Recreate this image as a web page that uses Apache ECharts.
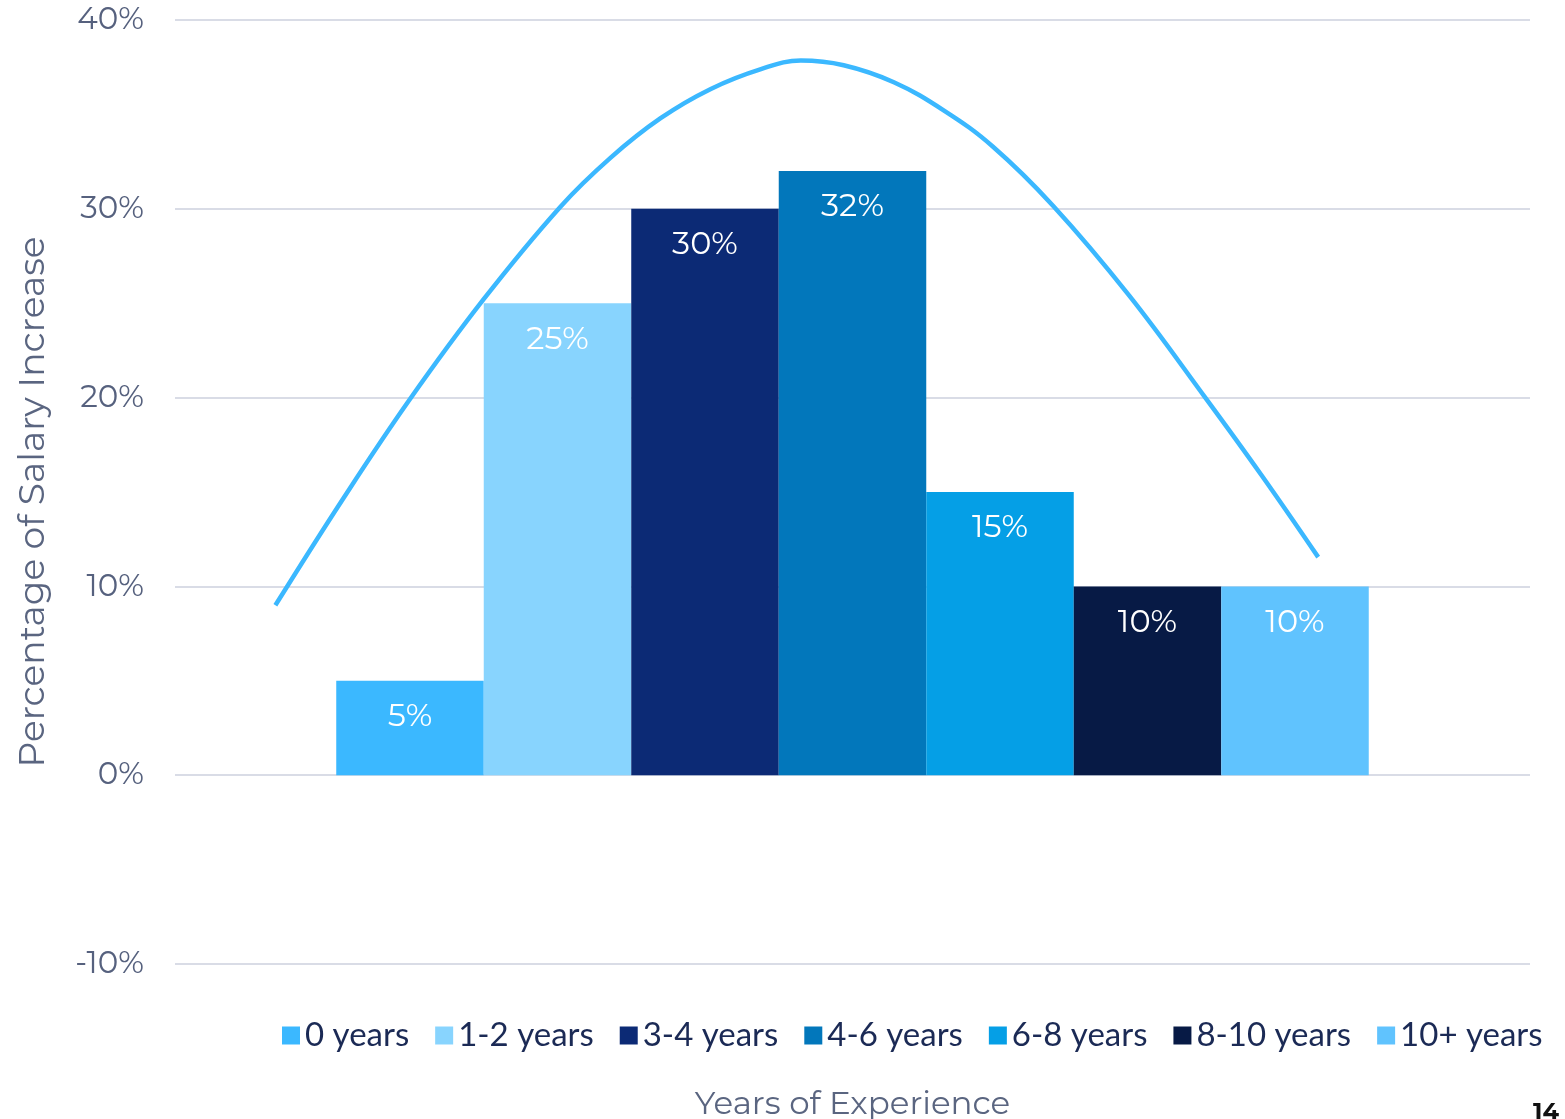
<!DOCTYPE html>
<html>
<head>
<meta charset="utf-8">
<script src="https://cdn.jsdelivr.net/npm/echarts@6/dist/echarts.min.js"></script>
<style>
html,body{margin:0;padding:0;background:#fff;}
#chart{width:1565px;height:1119px;}
</style>
</head>
<body>
<div id="chart"></div>
<script>
// Data
const categories = ['Years of Experience'];
const seriesNames = ['0 years', '1-2 years', '3-4 years', '4-6 years', '6-8 years', '8-10 years', '10+ years'];
const seriesValues = [5, 25, 30, 32, 15, 10, 10];
const seriesColors = ['#3BB8FF', '#88D4FE', '#0C2A75', '#0277BB', '#059FE6', '#071A45', '#60C3FE'];
const yTicks = [-10, 0, 10, 20, 30, 40];
// trend curve: [position along the bar sequence (bar centres at 1..7), value %]
const curveX = [0.09, 0.55, 1.0, 1.5, 2.02, 2.36, 2.70, 3.04, 3.38, 3.65, 3.94, 4.28, 4.62, 4.95, 5.36, 5.875, 6.39, 6.77, 7.155];
const curveY = [9.0, 14.66, 19.9, 25.2, 30.1, 32.7, 34.8, 36.35, 37.4, 37.85, 37.6, 36.7, 35.2, 33.3, 30.15, 25.4, 20.0, 15.9, 11.55];

const FONT = 'Montserrat, "Open Sans", "Noto Sans", sans-serif';
const chart = echarts.init(document.getElementById('chart'));

const barSeries = seriesNames.map((name, i) => ({
  name: name,
  type: 'bar',
  xAxisIndex: 0,
  yAxisIndex: 0,
  data: [seriesValues[i]],
  barGap: '0%',
  barCategoryGap: '23.8%',
  itemStyle: { color: seriesColors[i] },
  label: {
    show: true,
    position: 'insideTop',
    distance: 20,
    formatter: '{c}%',
    color: '#ffffff',
    fontFamily: FONT,
    fontSize: 32
  },
  emphasis: { disabled: true },
  z: 2
}));

const curveData = curveX.map((x, i) => [x, curveY[i]]);

chart.setOption({
  animation: false,
  grid: { left: 175, right: 35, top: 20, bottom: 155, outerBoundsMode: 'none' },
  legend: {
    data: seriesNames,
    top: 1014,
    left: 277,
    right: 0,
    itemWidth: 18,
    itemHeight: 18,
    itemGap: 26,
    icon: 'rect',
    textStyle: { fontFamily: 'Lato, "Noto Sans", sans-serif', fontSize: 33, color: '#1B2A55' }
  },
  xAxis: [
    {
      type: 'category',
      data: categories,
      axisLine: { show: false, onZero: false },
      axisTick: { show: false },
      axisLabel: { show: false },
      name: 'Years of Experience',
      nameLocation: 'middle',
      nameGap: 124,
      nameTextStyle: { fontFamily: FONT, fontSize: 32.5, color: '#5A6580' }
    },
    {
      type: 'value',
      min: -0.59,
      max: 8.59,
      show: false
    }
  ],
  yAxis: {
    type: 'value',
    min: yTicks[0],
    max: yTicks[yTicks.length - 1],
    interval: 10,
    axisLine: { show: false },
    axisTick: { show: false },
    axisLabel: {
      formatter: '{value}%',
      fontFamily: FONT,
      fontSize: 31,
      color: '#56617E',
      margin: 31
    },
    splitLine: { lineStyle: { color: '#D9DCE6', width: 2 } },
    name: 'Percentage of Salary Increase',
    nameLocation: 'middle',
    nameGap: 124,
    nameRotate: 90,
    nameTextStyle: { fontFamily: FONT, fontSize: 36, color: '#5A6580', padding: [0, 20, 0, 0] }
  },
  series: barSeries.concat([{
    name: 'trend',
    type: 'line',
    xAxisIndex: 1,
    yAxisIndex: 0,
    data: curveData,
    smooth: 0.4,
    showSymbol: false,
    symbol: 'none',
    lineStyle: { color: '#3BB8FF', width: 4.5 },
    emphasis: { disabled: true },
    z: 3
  }]),
  graphic: [{
    type: 'text',
    right: 6,
    bottom: -6,
    style: { text: '14', fontFamily: FONT, fontSize: 24, fontWeight: 'bold', fill: '#111111' }
  }]
});
</script>
</body>
</html>
